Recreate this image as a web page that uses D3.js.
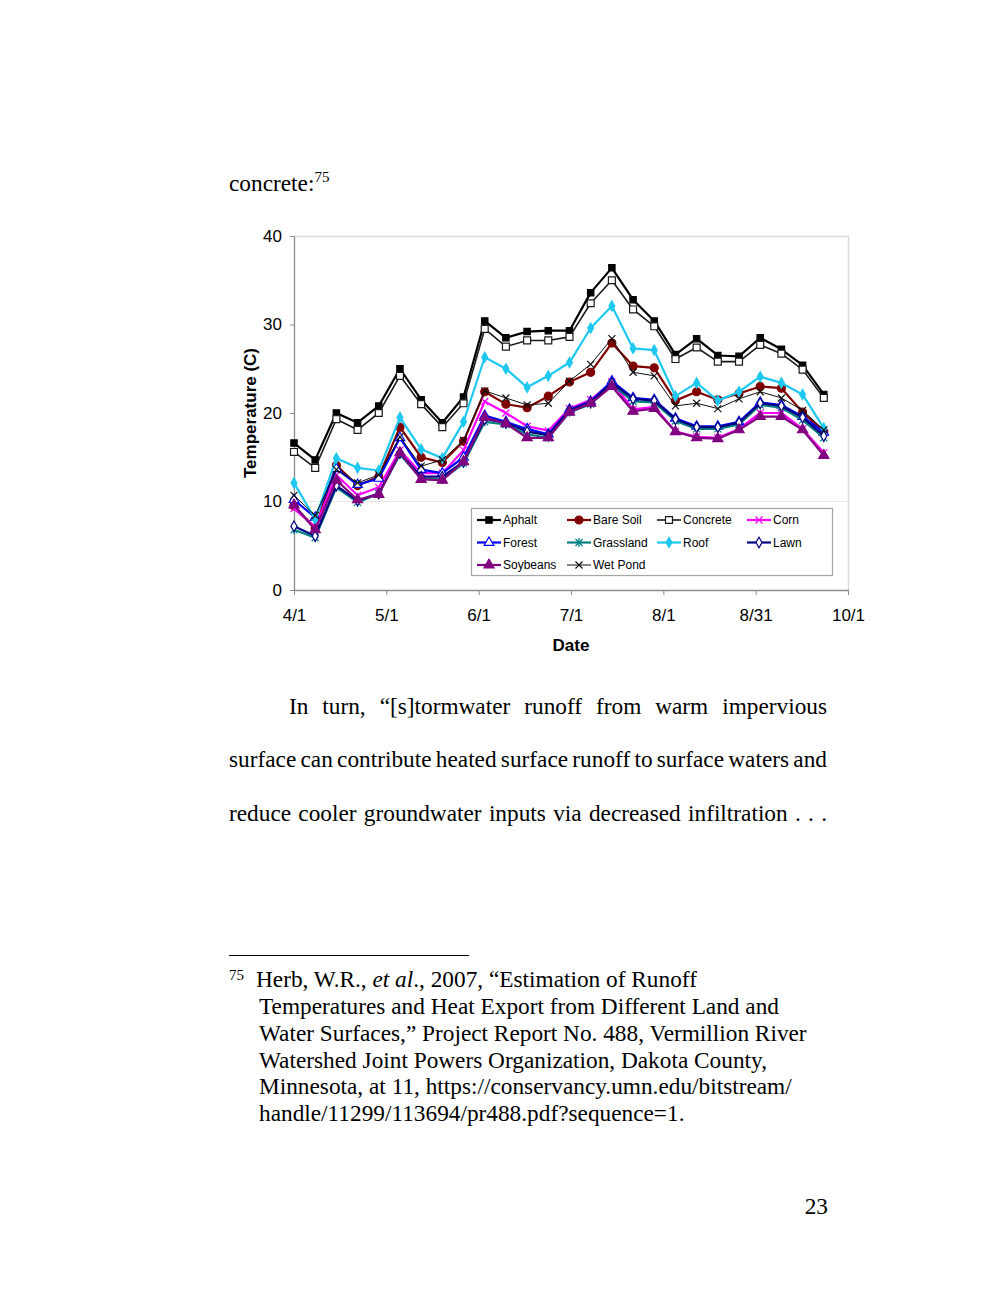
<!DOCTYPE html>
<html>
<head>
<meta charset="utf-8">
<script src="https://cdn.jsdelivr.net/npm/d3@7"></script>
<style>
  body { margin: 0; background: #fff; }
  svg { display: block; }
</style>
</head>
<body>
<svg id="page" width="1000" height="1297"></svg>
<script>
// weekly sample dates
var dates = ["2007-04-01","2007-04-08","2007-04-15","2007-04-22","2007-04-29","2007-05-06","2007-05-13",
  "2007-05-20","2007-05-27","2007-06-03","2007-06-10","2007-06-17","2007-06-24","2007-07-01","2007-07-08",
  "2007-07-15","2007-07-22","2007-07-29","2007-08-05","2007-08-12","2007-08-19","2007-08-26","2007-09-02",
  "2007-09-09","2007-09-16","2007-09-23"];

var aphalt    = [16.6,14.7,20.0,18.9,20.8,25.0,21.5,18.9,21.8,30.4,28.5,29.2,29.3,29.3,33.6,36.4,32.8,30.4,26.6,28.4,26.5,26.4,28.5,27.2,25.4,22.1];
var bare_soil = [9.5,7.0,14.1,11.8,12.8,18.4,15.0,14.4,16.8,22.4,21.0,20.6,21.9,23.5,24.6,27.9,25.3,25.1,21.4,22.4,21.5,22.2,23.0,22.8,20.1,17.9];
var concrete  = [15.6,13.8,19.3,18.1,20.0,24.2,21.0,18.4,21.1,29.5,27.5,28.2,28.2,28.6,32.4,35.0,31.7,29.8,26.1,27.4,25.8,25.8,27.7,26.7,24.9,21.7];
var corn      = [9.2,7.1,13.0,10.7,11.6,15.8,13.2,13.2,15.8,21.3,20.0,18.5,18.0,20.5,21.5,23.5,20.4,20.7,17.9,17.3,17.2,18.2,20.0,20.0,18.2,15.5];
var forest    = [10.2,8.2,13.7,11.9,12.6,17.2,13.6,13.2,15.0,19.7,19.0,18.2,17.6,20.4,21.3,23.6,21.7,21.5,19.4,18.5,18.5,19.0,21.2,20.9,19.6,17.8];
var grassland = [6.8,5.9,11.6,9.9,10.9,15.3,12.6,12.5,14.3,19.0,18.7,17.6,17.2,20.1,21.0,23.2,21.3,21.2,19.1,18.2,18.2,18.7,20.9,20.6,19.2,17.2];
var roof      = [12.1,8.0,14.9,13.8,13.5,19.5,15.9,14.9,19.0,26.3,25.0,22.9,24.2,25.7,29.6,32.1,27.3,27.1,21.9,23.4,21.4,22.4,24.1,23.4,22.1,18.3];
var lawn      = [7.2,6.1,11.8,10.1,10.9,15.5,12.8,12.8,14.5,19.3,18.9,17.9,17.5,20.3,21.2,23.4,21.6,21.4,19.3,18.4,18.4,18.9,21.1,20.8,19.5,17.4];
var soybeans  = [9.6,6.8,12.4,10.2,10.8,15.5,12.5,12.4,14.5,19.5,18.8,17.2,17.2,20.1,21.1,23.0,20.2,20.5,17.9,17.2,17.1,18.1,19.6,19.6,18.1,15.2];
var wet_pond  = [10.7,8.4,13.6,12.1,13.0,17.3,14.0,14.7,16.9,22.5,21.7,20.9,21.1,23.6,25.5,28.4,24.6,24.2,20.8,21.1,20.5,21.6,22.4,21.7,20.3,18.1];

var y_ticks = [0,10,20,30,40];
var x_tick_dates = ["2007-04-01T00:00","2007-05-01T12:00","2007-06-01T00:00","2007-07-01T12:00","2007-08-01T00:00","2007-08-31T12:00","2007-10-01T00:00"];

var body_lines = [
  "In turn, \u201c[s]tormwater runoff from warm impervious",
  "surface can contribute heated surface runoff to surface waters and",
  "reduce cooler groundwater inputs via decreased infiltration . . ."
];
var footnote_lines = [
  "Temperatures and Heat Export from Different Land and",
  "Water Surfaces,\u201d Project Report No. 488, Vermillion River",
  "Watershed Joint Powers Organization, Dakota County,",
  "Minnesota, at 11, https://conservancy.umn.edu/bitstream/",
  "handle/11299/113694/pr488.pdf?sequence=1."
];

var parse = d3.timeParse("%Y-%m-%d");
var parse_t = d3.timeParse("%Y-%m-%dT%H:%M");

var xpath = "M-3.5,-3.5L3.5,3.5M-3.5,3.5L3.5,-3.5";
var starpath = "M-3.5,-3.5L3.5,3.5M-3.5,3.5L3.5,-3.5M0,-4.5L0,4.5";

var series = [
  {name:"Aphalt",    values:aphalt,    color:"#000000", lw:2.2, sym:d3.symbolSquare,   size:40, fill:"#000000"},
  {name:"Bare Soil", values:bare_soil, color:"#800000", lw:2.2, sym:d3.symbolCircle,   size:50, fill:"#800000"},
  {name:"Concrete",  values:concrete,  color:"#1a1a1a", lw:1.6, sym:d3.symbolSquare,   size:48, fill:"#ffffff"},
  {name:"Corn",      values:corn,      color:"#ff00ff", lw:2.2, path:xpath},
  {name:"Forest",    values:forest,    color:"#0000ff", lw:2.2, sym:d3.symbolTriangle, size:40, fill:"#ffffff"},
  {name:"Grassland", values:grassland, color:"#008080", lw:2.2, path:starpath},
  {name:"Roof",      values:roof,      color:"#1ec8f0", lw:2.2, sym:d3.symbolDiamond,  size:30, fill:"#1ec8f0"},
  {name:"Lawn",      values:lawn,      color:"#000080", lw:2.2, sym:d3.symbolDiamond,  size:32, fill:"#ffffff"},
  {name:"Soybeans",  values:soybeans,  color:"#800080", lw:2.2, sym:d3.symbolTriangle, size:45, fill:"#800080"},
  {name:"Wet Pond",  values:wet_pond,  color:"#111111", lw:1.0, path:xpath}
];

var svg = d3.select("#page");
var serif = "'Liberation Serif','Times New Roman',serif";
var sans = "'Liberation Sans',Arial,sans-serif";
var fs = 23.3;

//page text above chart
var t = svg.append("text").attr("x",229).attr("y",191).attr("font-family",serif).attr("font-size",fs);
t.append("tspan").text("concrete:");
t.append("tspan").attr("font-size",15).attr("dy",-9).text("75");

//chart
var x = d3.scaleTime().domain([parse("2007-04-01"), parse("2007-10-01")]).range([294, 848]);
var y = d3.scaleLinear().domain([0, 40]).range([590, 236]);

var chart = svg.append("g").attr("font-family",sans);

//plot border and gridline
chart.append("path").attr("d","M294,236.5H848.5V590").attr("fill","none").attr("stroke","#d9d9d9").attr("stroke-width",1.5);
chart.append("line").attr("x1",294).attr("x2",848).attr("y1",y(10)).attr("y2",y(10)).attr("stroke","#e6e6e6").attr("stroke-width",1);

var y_axis = chart.append("g").attr("transform","translate(294,0)")
  .call(d3.axisLeft(y).tickValues(y_ticks).tickSize(4).tickSizeOuter(0).tickPadding(8));
var x_axis = chart.append("g").attr("transform","translate(0,590)")
  .call(d3.axisBottom(x).tickValues(x_tick_dates.map(parse_t)).tickFormat(d3.timeFormat("%-m/%-d")).tickSize(5).tickSizeOuter(0).tickPadding(14));
[y_axis, x_axis].forEach(function(a){
  a.select(".domain").attr("stroke","#8c8c8c").attr("stroke-width",1.3);
  a.selectAll(".tick line").attr("stroke","#8c8c8c");
  a.selectAll(".tick text").attr("font-family",sans).attr("font-size",17).attr("fill","#000");
});

chart.append("text").attr("transform","translate(250,413) rotate(-90)").attr("text-anchor","middle")
  .attr("dy","0.35em").attr("font-size",17).attr("font-weight","bold").text("Temperature (C)");
chart.append("text").attr("x",571).attr("y",651).attr("text-anchor","middle")
  .attr("font-size",17).attr("font-weight","bold").text("Date");

function marker(sel, s) {
  if (s.path) {
    sel.append("path").attr("d", s.path).attr("fill","none").attr("stroke", s.color).attr("stroke-width",1.2);
  } else {
    sel.append("path").attr("d", d3.symbol(s.sym, s.size)())
      .attr("fill", s.fill).attr("stroke", s.color).attr("stroke-width",1.2);
  }
}

var line = d3.line().x(function(d){ return x(d.date); }).y(function(d){ return y(d.v); });

var sg = chart.selectAll(".series").data(series).join("g").attr("class","series");
sg.each(function(s){
  var g = d3.select(this);
  var pts = s.values.map(function(v,i){ return {date: parse(dates[i]), v: v}; });
  g.append("path").attr("d", line(pts)).attr("fill","none").attr("stroke", s.color)
    .attr("stroke-width", s.lw).attr("stroke-linejoin","round");
  g.selectAll(".pt").data(pts).join("g").attr("class","pt")
    .attr("transform", function(d){ return "translate(" + x(d.date) + "," + y(d.v) + ")"; })
    .each(function(){ marker(d3.select(this), s); });
});

//legend
var leg = chart.append("g");
leg.append("rect").attr("x",471.5).attr("y",508.5).attr("width",361).attr("height",67)
  .attr("fill","#fff").attr("stroke","#a6a6a6").attr("stroke-width",1.2);
var li = leg.selectAll(".li").data(series).join("g").attr("class","li")
  .attr("transform", function(d,i){ return "translate(" + (477 + (i % 4) * 90) + "," + (520 + Math.floor(i / 4) * 22.5) + ")"; });
li.each(function(s){
  var g = d3.select(this);
  g.append("line").attr("x1",0).attr("x2",24).attr("stroke", s.color).attr("stroke-width", s.lw);
  var m = g.append("g").attr("transform","translate(12,0)");
  marker(m, s);
  g.append("text").attr("x",26).attr("dy","0.35em").attr("font-size",12).text(s.name);
});

//justified body text
function justify(str, x0, x1, yb) {
  var words = str.split(" ");
  var g = svg.append("g").attr("font-family",serif).attr("font-size",fs);
  var nodes = words.map(function(w){ return g.append("text").attr("y",yb).text(w); });
  var widths = nodes.map(function(n){ return n.node().getComputedTextLength(); });
  var gap = (x1 - x0 - d3.sum(widths)) / (words.length - 1);
  var cx = x0;
  nodes.forEach(function(n,i){ n.attr("x", cx); cx += widths[i] + gap; });
}
justify(body_lines[0], 289, 827, 714);
justify(body_lines[1], 229, 827, 767);
justify(body_lines[2], 229, 827, 821);

//footnote
svg.append("line").attr("x1",229).attr("x2",469).attr("y1",955.5).attr("y2",955.5).attr("stroke","#000").attr("stroke-width",1);
svg.append("text").attr("x",229).attr("y",980).attr("font-family",serif).attr("font-size",15).text("75");
var f = svg.append("text").attr("x",256).attr("y",987).attr("font-family",serif).attr("font-size",fs);
f.append("tspan").text("Herb, W.R., ");
f.append("tspan").attr("font-style","italic").text("et al");
f.append("tspan").text("., 2007, \u201cEstimation of Runoff");
svg.selectAll(".fn").data(footnote_lines).join("text").attr("class","fn")
  .attr("x",259).attr("y",function(d,i){ return 1014 + i * 26.8; })
  .attr("font-family",serif).attr("font-size",fs).text(function(d){ return d; });

svg.append("text").attr("x",828).attr("y",1214).attr("text-anchor","end")
  .attr("font-family",serif).attr("font-size",fs).text("23");
</script>
</body>
</html>
